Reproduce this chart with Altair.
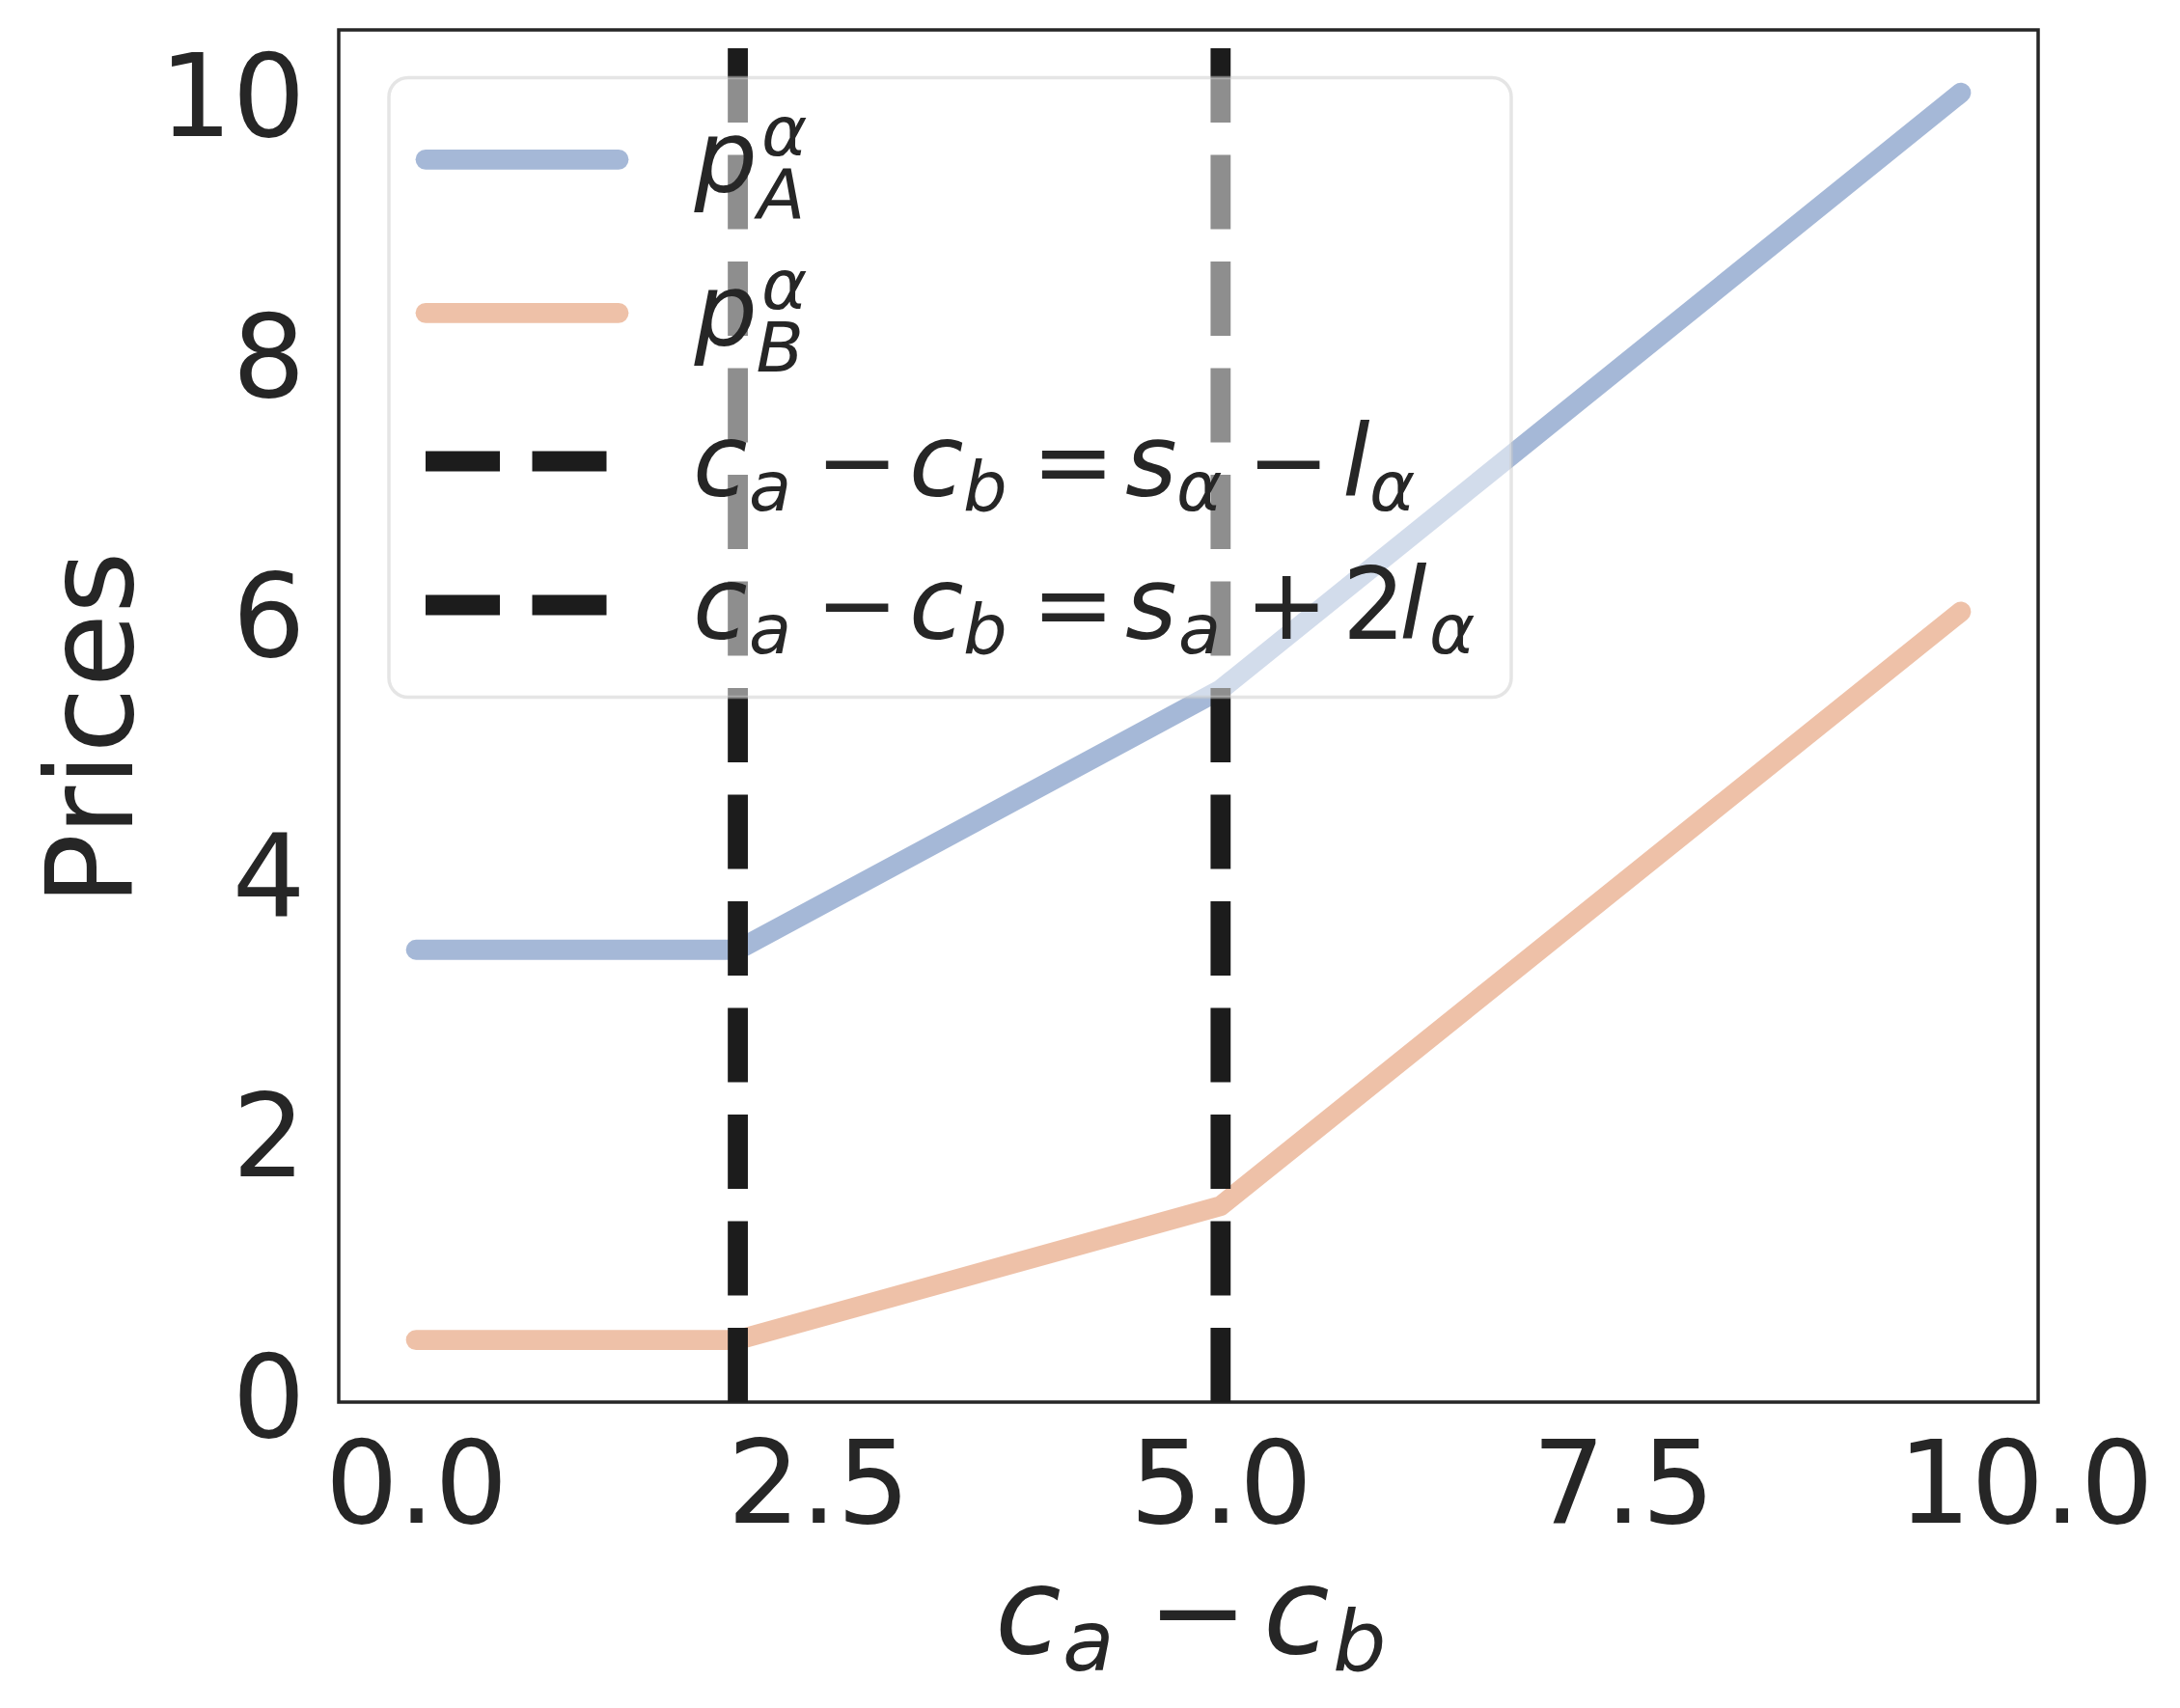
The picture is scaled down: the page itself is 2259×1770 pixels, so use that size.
import altair as alt
import pandas as pd

# ---------------- data ----------------
X_VALUES = [0.0, 2.0, 5.0, 9.6]
P_A_VALUES = [3.43, 3.43, 5.43, 10.02]
P_B_VALUES = [0.43, 0.43, 1.46, 6.03]
SERIES = ["p_A", "p_B"]
THRESHOLDS = [2.0, 5.0]
X_TICKS = [0, 2.5, 5, 7.5, 10]
Y_TICKS = [0, 2, 4, 6, 8, 10]
Y_TITLE = "Prices"

# legend labels (math text split into runs: glyph, role)
LEGEND_LABELS = [
    [("p", "it"), ("α", "sup"), ("A", "sub")],
    [("p", "it"), ("α", "sup"), ("B", "sub")],
    [("c", "it"), ("a", "sub"), ("−", "rm"), ("c", "it"), ("b", "sub"), ("=", "rm"),
     ("s", "it"), ("α", "sub"), ("−", "rm"), ("l", "it"), ("α", "sub")],
    [("c", "it"), ("a", "sub"), ("−", "rm"), ("c", "it"), ("b", "sub"), ("=", "rm"),
     ("s", "it"), ("a", "sub"), ("+", "rm"), ("2", "rm"), ("l", "it"), ("α", "sub")],
]
X_TITLE = [("c", "it"), ("a", "sub"), ("−", "rm"), ("c", "it"), ("b", "sub")]

# ---------------- styling / layout ----------------
SERIES_COLORS = ["#4C72B0", "#DD8452"]
DASH_COLOR = "#1c1c1c"
TEXT_COLOR = "#262626"
FONT = "DejaVu Sans"
X_DOMAIN = [-0.48, 10.08]
Y_DOMAIN = [-0.048, 10.503]
W, H = 1761, 1422
OX, OY = 351, 31  # plot origin on the page
LW = 20.8
DASH = [77, 33.5]

# page-pixel layout of the legend label runs (x of glyph origin)
LEGEND_RUN_X = [
    [719.5, 789.0, 785.0],
    [719.5, 789.0, 783.5],
    [718.0, 776.0, 845.0, 942.0, 998.0, 1069.0, 1166.0, 1219.0, 1292.0, 1391.0, 1419.0],
    [718.0, 776.0, 845.0, 942.0, 998.0, 1069.0, 1166.0, 1221.0, 1290.0, 1391.0, 1450.0, 1481.0],
]
# (main baseline, superscript baseline, subscript baseline) for each legend row
LEGEND_BASELINES = [(198.6, 160.5, 226.0), (357.7, 320.0, 385.0),
                    (514.0, 514.0, 529.0), (661.6, 661.6, 676.5)]
LEGEND_FS, LEGEND_SCRIPT_FS = 103, 72
XTITLE_RUN_X = [1031.0, 1101.0, 1189.0, 1309.0, 1381.0]
XTITLE_BASE = (1713.0, 1713.0, 1731.0)
XTITLE_FS, XTITLE_SCRIPT_FS = 125, 87.5

SAMPLE_Y = [165.3, 324.3, 478.0, 627.0]
SAMPLE_X = (441, 641)
BOX = (403, 1566, 80.4, 722.6)


def build_runs(runs, xs, bases, fs, sfs):
    rows = []
    for (t, role), x in zip(runs, xs):
        main, sup, sub = bases
        if role == "sup":
            y, size = sup, sfs
        elif role == "sub":
            y, size = sub, sfs
        else:
            y, size = main, fs
        rows.append({"t": t, "px": x - OX, "py": y - OY, "fs": size,
                     "style": "normal" if role == "rm" else "italic"})
    return rows


text_rows = []
for runs, xs, bases in zip(LEGEND_LABELS, LEGEND_RUN_X, LEGEND_BASELINES):
    text_rows += build_runs(runs, xs, bases, LEGEND_FS, LEGEND_SCRIPT_FS)
text_rows += build_runs(X_TITLE, XTITLE_RUN_X, XTITLE_BASE, XTITLE_FS, XTITLE_SCRIPT_FS)
text_df = pd.DataFrame(text_rows)

lines_df = pd.DataFrame({
    "x": X_VALUES + X_VALUES,
    "price": P_A_VALUES + P_B_VALUES,
    "series": [SERIES[0]] * len(X_VALUES) + [SERIES[1]] * len(X_VALUES),
})
thr_df = pd.DataFrame({"x": THRESHOLDS, "y0": [Y_DOMAIN[0]] * 2, "y1": [Y_DOMAIN[1]] * 2})

xscale = alt.Scale(domain=X_DOMAIN, nice=False, zero=False)
yscale = alt.Scale(domain=Y_DOMAIN, nice=False, zero=False)
cscale = alt.Scale(domain=SERIES, range=SERIES_COLORS)

x_axis = alt.Axis(values=X_TICKS, format=".1f", grid=False, domain=False, ticks=False,
                  tickSize=0, labelFontSize=119, labelFont=FONT, labelColor=TEXT_COLOR,
                  labelPadding=30, labelFlush=False, labelOverlap=False, labelBound=False,
                  labelLimit=1000, title=None)
y_axis = alt.Axis(values=Y_TICKS, format="d", grid=False, domain=False, ticks=False,
                  tickSize=0, labelFontSize=119, labelFont=FONT, labelColor=TEXT_COLOR,
                  labelPadding=35, labelOffset=6, labelFlush=False, labelOverlap=False,
                  labelBound=False, labelLimit=1000, title=Y_TITLE, titleFontSize=124,
                  titleFont=FONT, titleFontWeight="normal", titleColor=TEXT_COLOR,
                  titleAngle=270, titleAlign="center", titleBaseline="alphabetic",
                  titleLimit=2000, titleX=136.7 - OX, titleY=754.4 - OY)

lines = alt.Chart(lines_df).mark_line(
    strokeWidth=LW, strokeCap="round", strokeJoin="round", strokeOpacity=0.5
).encode(
    x=alt.X("x:Q", scale=xscale, axis=x_axis),
    y=alt.Y("price:Q", scale=yscale, axis=y_axis),
    color=alt.Color("series:N", scale=cscale, legend=None),
)

rules = alt.Chart(thr_df).mark_rule(
    color=DASH_COLOR, strokeWidth=LW, strokeDash=DASH, strokeCap="butt"
).encode(
    x=alt.X("x:Q", scale=xscale, axis=None),
    y=alt.Y("y0:Q", scale=yscale, axis=None),
    y2="y1",
)

box_df = pd.DataFrame({"bx0": [BOX[0] - OX], "bx1": [BOX[1] - OX],
                       "by0": [BOX[2] - OY], "by1": [BOX[3] - OY]})
box = alt.Chart(box_df).mark_rect(
    fill="white", fillOpacity=0.5, stroke="#cccccc", strokeOpacity=0.5,
    strokeWidth=3.5, cornerRadius=20
).encode(
    x=alt.X("bx0:Q", scale=None, axis=None), x2="bx1",
    y=alt.Y("by0:Q", scale=None, axis=None), y2="by1",
)

solid_df = pd.DataFrame({"series": SERIES,
                         "lx0": [SAMPLE_X[0] - OX] * 2, "lx1": [SAMPLE_X[1] - OX] * 2,
                         "ly": [SAMPLE_Y[0] - OY, SAMPLE_Y[1] - OY]})
solid = alt.Chart(solid_df).mark_rule(
    strokeWidth=LW, strokeCap="round", strokeOpacity=0.5
).encode(
    x=alt.X("lx0:Q", scale=None, axis=None), x2="lx1",
    y=alt.Y("ly:Q", scale=None, axis=None),
    color=alt.Color("series:N", scale=cscale, legend=None),
)

dashed_df = pd.DataFrame({"lx0": [SAMPLE_X[0] - OX] * 2, "lx1": [SAMPLE_X[1] - OX] * 2,
                          "ly": [SAMPLE_Y[2] - OY, SAMPLE_Y[3] - OY]})
dashed = alt.Chart(dashed_df).mark_rule(
    color=DASH_COLOR, strokeWidth=LW, strokeDash=DASH, strokeCap="butt"
).encode(
    x=alt.X("lx0:Q", scale=None, axis=None), x2="lx1",
    y=alt.Y("ly:Q", scale=None, axis=None),
)


def text_layer(style):
    df = text_df[text_df["style"] == style]
    return alt.Chart(df).mark_text(
        align="left", baseline="alphabetic", font=FONT, fontStyle=style, color=TEXT_COLOR
    ).encode(
        x=alt.X("px:Q", scale=None, axis=None),
        y=alt.Y("py:Q", scale=None, axis=None),
        text="t:N",
        size=alt.Size("fs:Q", scale=None, legend=None),
    )


chart = alt.layer(
    lines, rules, box, solid, dashed, text_layer("italic"), text_layer("normal")
).resolve_scale(
    x="independent", y="independent", color="independent", size="independent"
).properties(
    width=W, height=H,
    autosize=alt.AutoSizeParams(type="none"),
    padding={"left": OX - 8, "top": OY - 8, "right": 2259 - 16 - (OX - 8) - W,
             "bottom": 1770 - 16 - (OY - 8) - H},
    background="white",
).configure_view(stroke=TEXT_COLOR, strokeWidth=3.5)

chart.save("out.html", embed_options={"renderer": "svg", "actions": False})
